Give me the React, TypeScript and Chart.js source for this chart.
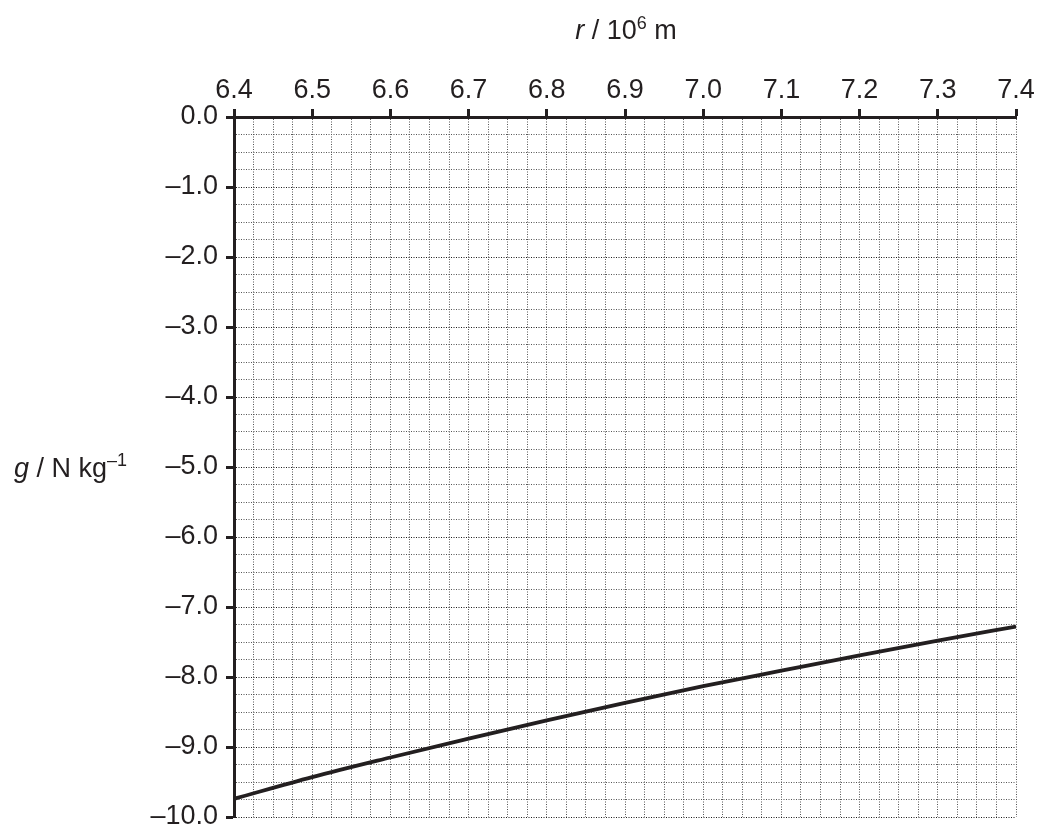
import React, { useEffect, useRef } from "react";
import { Chart, registerables } from "chart.js";

Chart.register(...registerables);

// r / 10^6 m
const rValues = [6.4, 6.5, 6.6, 6.7, 6.8, 6.9, 7.0, 7.1, 7.2, 7.3, 7.4];
// g / N kg^-1
const gValues = [-9.74, -9.43, -9.15, -8.88, -8.62, -8.37, -8.13, -7.91, -7.69, -7.48, -7.28];

const xMin = 6.4;
const xMax = 7.4;
const xMinorStep = 0.025;
const xLabelStep = 0.1;
const yMin = -10;
const yMax = 0;
const yMinorStep = 0.25;
const yLabelStep = 1;

const INK = "#231f20";
const FONT = "Liberation Sans, Arial, sans-serif";

const isMultiple = (v: number, step: number) =>
  Math.abs(v / step - Math.round(v / step)) < 1e-6;

type Part = { text: string; size: number; italic?: boolean; dy?: number };

const xTitleParts: Part[] = [
  { text: "r", size: 27, italic: true },
  { text: " / 10", size: 27 },
  { text: "6", size: 18, dy: -10 },
  { text: " m", size: 27 },
];
const yTitleParts: Part[] = [
  { text: "g", size: 27, italic: true },
  { text: " / N kg", size: 27 },
  { text: "\u20131", size: 18, dy: -11 },
];

function drawParts(ctx: CanvasRenderingContext2D, parts: Part[], x: number, y: number, align: "center" | "left") {
  const fontOf = (p: Part) => `${p.italic ? "italic " : ""}${p.size}px ${FONT}`;
  let total = 0;
  for (const p of parts) {
    ctx.font = fontOf(p);
    total += ctx.measureText(p.text).width;
  }
  let cx = align === "center" ? x - total / 2 : x;
  ctx.textAlign = "left";
  ctx.textBaseline = "alphabetic";
  for (const p of parts) {
    ctx.font = fontOf(p);
    ctx.fillText(p.text, cx, y + (p.dy || 0));
    cx += ctx.measureText(p.text).width;
  }
}

const titlesPlugin = {
  id: "axisTitles",
  afterDraw(chart: any) {
    const { ctx, chartArea } = chart;
    ctx.save();
    ctx.fillStyle = INK;
    drawParts(ctx, xTitleParts, (chartArea.left + chartArea.right) / 2 + 1, 39, "center");
    drawParts(ctx, yTitleParts, 14, (chartArea.top + chartArea.bottom) / 2 + 10, "left");
    ctx.restore();
  },
};

export default function App() {
  const ref = useRef<HTMLCanvasElement | null>(null);

  useEffect(() => {
    if (!ref.current) return;
    const points = rValues.map((r, i) => ({ x: r, y: gValues[i] }));
    const chart = new Chart(ref.current, {
      type: "line",
      data: {
        datasets: [
          {
            data: points,
            borderColor: INK,
            borderWidth: 3.8,
            pointRadius: 0,
            cubicInterpolationMode: "monotone",
            fill: false,
          },
        ],
      },
      options: {
        animation: false,
        responsive: false,
        maintainAspectRatio: false,
        layout: { padding: { left: 0, top: 0, right: 24, bottom: 12 } },
        plugins: { legend: { display: false }, tooltip: { enabled: false } },
        scales: {
          x: {
            type: "linear",
            position: "top",
            min: xMin,
            max: xMax,
            afterFit: (scale: any) => {
              scale.height = 117;
              scale.paddingLeft = 0;
              scale.paddingRight = 0;
            },
            ticks: {
              stepSize: xMinorStep,
              maxTicksLimit: 100,
              autoSkip: false,
              maxRotation: 0,
              padding: 2,
              color: INK,
              font: { family: FONT, size: 27 },
              callback: (v: any) => {
                const n = Number(v);
                return isMultiple(n, xLabelStep) ? n.toFixed(1) : "";
              },
            },
            grid: {
              color: "#555555",
              lineWidth: 1,
              tickLength: 8,
              tickBorderDash: [],
              tickColor: (c: any) => (c.tick && isMultiple(c.tick.value, xLabelStep) ? INK : "rgba(0,0,0,0)"),
              tickWidth: 3,
            },
            border: { display: true, color: INK, width: 3, dash: [1, 1.5] },
          },
          y: {
            type: "linear",
            position: "left",
            min: yMin,
            max: yMax,
            afterFit: (scale: any) => {
              scale.width = 234;
              scale.paddingTop = 0;
              scale.paddingBottom = 0;
            },
            ticks: {
              stepSize: yMinorStep,
              maxTicksLimit: 100,
              autoSkip: false,
              padding: 8,
              color: INK,
              font: { family: FONT, size: 27 },
              callback: (v: any) => {
                const n = Number(v);
                if (!isMultiple(n, yLabelStep)) return "";
                if (Math.abs(n) < 1e-9) return "0.0";
                return (n < 0 ? "\u2013" : "") + Math.abs(n).toFixed(1);
              },
            },
            grid: {
              color: (c: any) => (c.tick && isMultiple(c.tick.value, yLabelStep) ? "#1a1a1a" : "#555555"),
              lineWidth: 1,
              tickLength: 8,
              tickBorderDash: [],
              tickColor: (c: any) => (c.tick && isMultiple(c.tick.value, yLabelStep) ? INK : "rgba(0,0,0,0)"),
              tickWidth: 3,
            },
            border: { display: true, color: INK, width: 3, dash: [1, 1.5] },
          },
        },
      } as any,
      plugins: [titlesPlugin],
    });
    return () => chart.destroy();
  }, []);

  return (
    <div style={{ position: "absolute", left: 0, top: 0, width: 1040, height: 829, background: "#fff" }}>
      <canvas ref={ref} width={1040} height={829} style={{ width: 1040, height: 829, display: "block" }} />
    </div>
  );
}
